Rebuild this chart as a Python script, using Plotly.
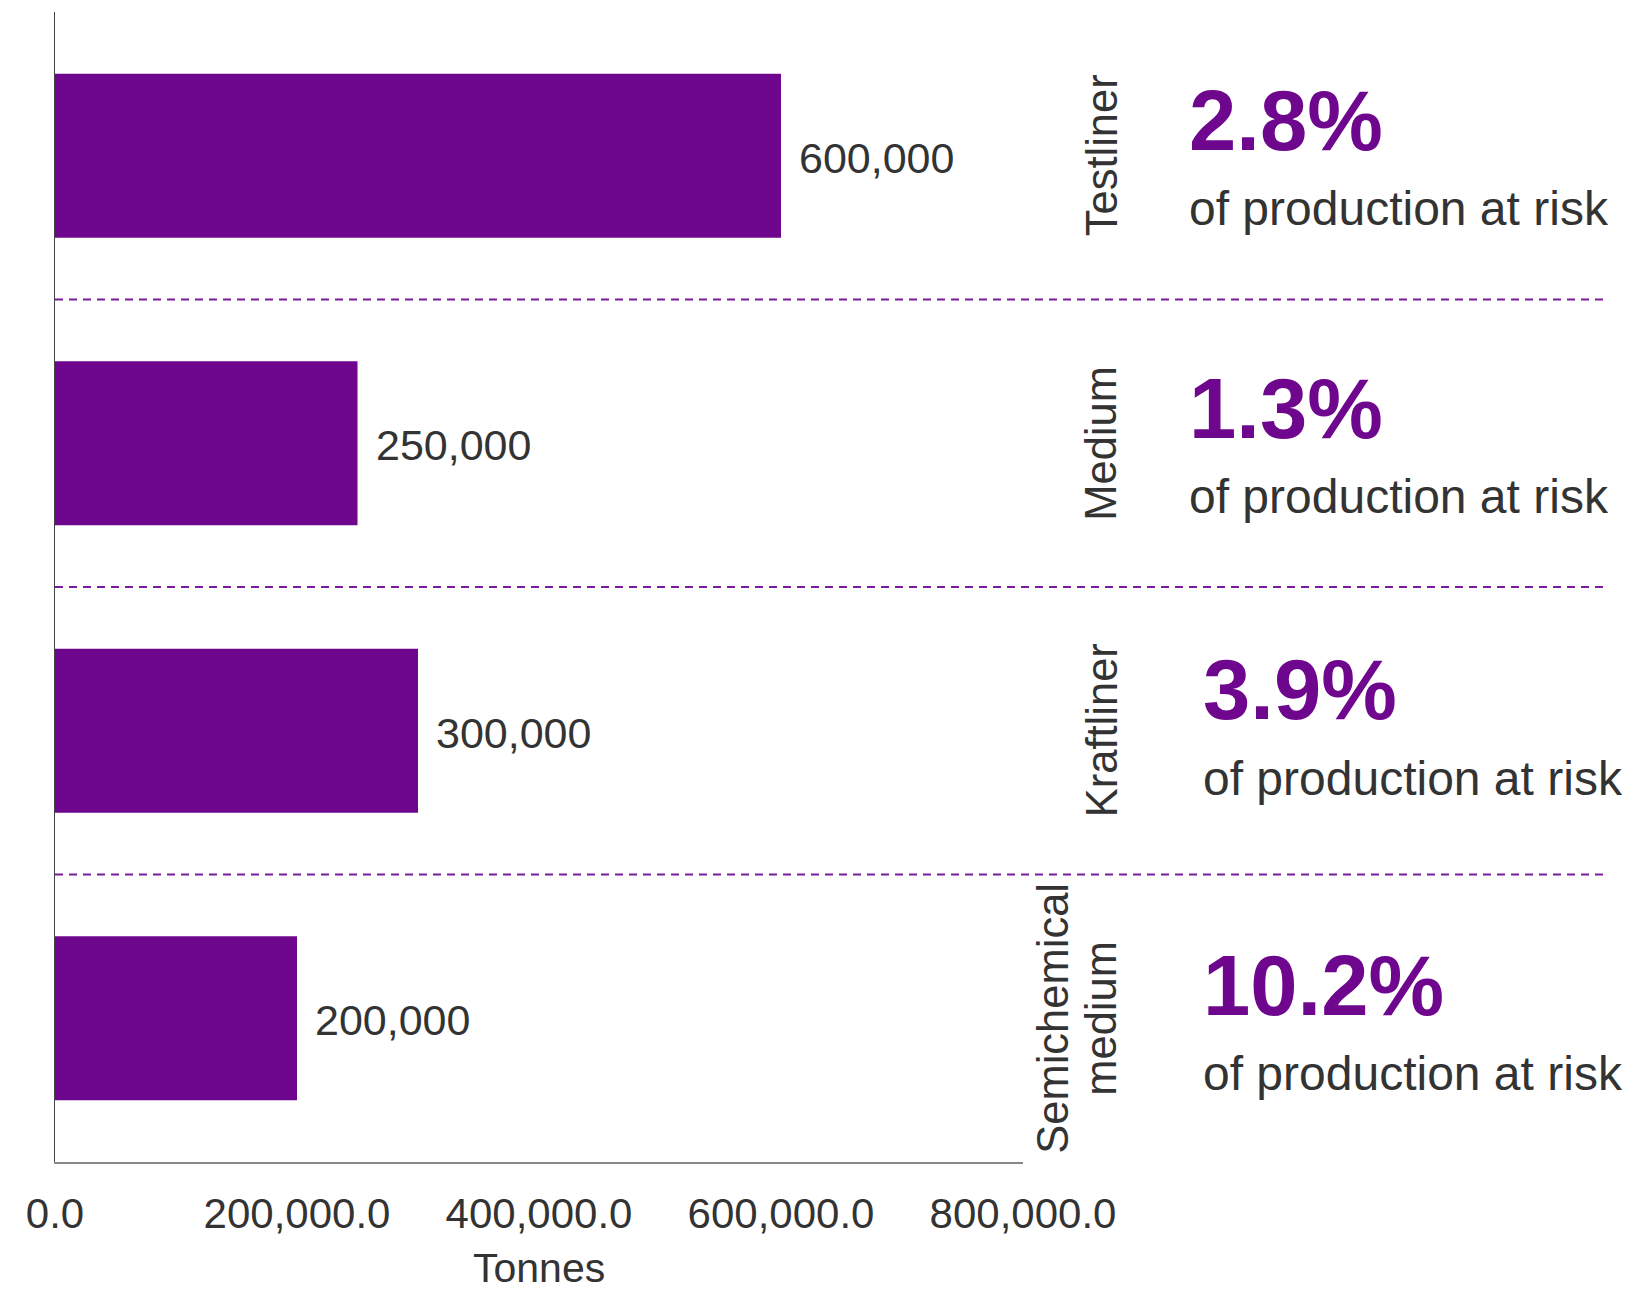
import plotly.graph_objects as go

categories = ["Testliner", "Medium", "Kraftliner", "Semichemical medium"]
category_labels = ["Testliner", "Medium", "Kraftliner", "Semichemical<br>medium"]
tonnes = [600000, 250000, 300000, 200000]
value_labels = ["600,000", "250,000", "300,000", "200,000"]
share_at_risk = ["2.8%", "1.3%", "3.9%", "10.2%"]
x_ticks = [0, 200000, 400000, 600000, 800000]
x_title = "Tonnes"

PURPLE = "#6E078D"
TEXT = "#333333"
FONT = "Liberation Sans, Arial, sans-serif"

fig = go.Figure()
fig.add_trace(go.Bar(
    y=categories, x=tonnes, orientation="h",
    marker=dict(color=PURPLE, line=dict(width=0)),
    width=0.57, hoverinfo="skip",
))

# dashed separators between categories
shapes = []
for i in range(len(categories) - 1):
    shapes.append(dict(type="line", xref="paper", yref="y",
                       x0=0, x1=1.604, y0=i + 0.5, y1=i + 0.5,
                       line=dict(color="#7A1A9A", width=2, dash="8px,6px")))

annotations = []
pct_x = [1.1694, 1.1694, 1.1835, 1.1835]
pct_shift = [35, 35, 41, 33]
sub_shift = [-53, -53, -48, -55]
for i, cat in enumerate(categories):
    # value label next to bar
    annotations.append(dict(
        x=tonnes[i], xref="x", y=cat, yref="y", xshift=16, yshift=-2,
        text=value_labels[i], showarrow=False,
        xanchor="left", yanchor="middle",
        font=dict(family=FONT, size=43, color=TEXT)))
    # rotated category label (one annotation per line)
    lines = category_labels[i].split("<br>")
    n = len(lines)
    for j, ln in enumerate(lines):
        off = (j - (n - 1)) * 48  # last line sits at the common position
        annotations.append(dict(
            x=1.0811, xref="paper", xshift=off, y=cat, yref="y",
            text=ln, textangle=-90, showarrow=False,
            xanchor="center", yanchor="middle",
            font=dict(family=FONT, size=43.5, color=TEXT)))
    annotations.append(dict(
        x=pct_x[i], xref="paper", y=cat, yref="y", yshift=pct_shift[i],
        text="<b>" + share_at_risk[i] + "</b>", showarrow=False,
        xanchor="left", yanchor="middle",
        font=dict(family=FONT, size=85, color=PURPLE)))
    annotations.append(dict(
        x=pct_x[i], xref="paper", y=cat, yref="y", yshift=sub_shift[i],
        text="of production at risk", showarrow=False,
        xanchor="left", yanchor="middle",
        font=dict(family=FONT, size=48, color=TEXT)))

# x-axis title
annotations.append(dict(
    x=0.5, xref="paper", y=0, yref="paper", yshift=-106, borderpad=0,
    text=x_title, showarrow=False, xanchor="center", yanchor="middle",
    font=dict(family=FONT, size=41, color=TEXT)))

fig.update_layout(
    width=1648, height=1291,
    margin=dict(l=55, r=625, t=12, b=129, pad=0),
    paper_bgcolor="white", plot_bgcolor="white",
    showlegend=False,
    shapes=shapes, annotations=annotations,
    font=dict(family=FONT, color=TEXT),
)
fig.update_xaxes(
    range=[0, 800000], tickvals=x_ticks, tickformat=",.1f",
    tickfont=dict(family=FONT, size=42, color=TEXT),
    showgrid=False, zeroline=False, automargin=False,
    showline=True, linecolor="#888888", linewidth=2,
    ticks="outside", ticklen=14, tickcolor="rgba(0,0,0,0)",
)
fig.update_yaxes(
    categoryorder="array", categoryarray=categories,
    range=[3.5, -0.5], showticklabels=False, ticks="",
    showgrid=False, zeroline=False, automargin=False,
    showline=True, linecolor="#444444", linewidth=1,
)

fig.write_html("out.html")
